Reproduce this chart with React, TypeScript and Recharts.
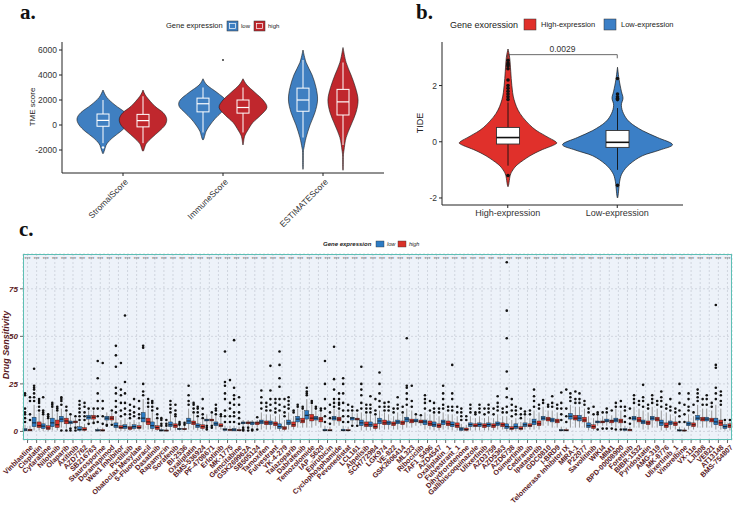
import React from 'react';
import { ComposedChart, Bar, Scatter, XAxis, YAxis, CartesianGrid, ReferenceLine } from 'recharts';

const SANS = '"Liberation Sans", Arial, sans-serif';
const SERIF = '"Liberation Serif", "Times New Roman", serif';
const MAROON = '#5b1a24';

// ---------- a. TME score by gene expression ----------
const tmeCats = ['StromalScore', 'ImmuneScore', 'ESTIMATEScore'];
// box: [lower whisker, q1, median, q3, upper whisker]
const tmeLowBox = [[-1450, -100, 370, 880, 2000], [-600, 1050, 1700, 2150, 3000], [-1000, 1100, 2000, 2950, 5200]];
const tmeHighBox = [[-1450, -150, 350, 850, 2300], [-600, 950, 1400, 2000, 3000], [-1600, 800, 1850, 2850, 5000]];
const tmeLowOut = [[-1800], [], []];
const tmeHighOut = [[], [], []];
// density profile: [score, relative width]
const tmeLowDens = [
  [[2800, 0], [2200, 0.15], [1600, 0.46], [1000, 0.85], [500, 1], [0, 0.92], [-500, 0.69], [-1000, 0.38], [-1500, 0.15], [-2000, 0.06], [-2300, 0]],
  [[3700, 0], [3200, 0.15], [2600, 0.54], [2000, 0.88], [1500, 0.92], [1000, 0.7], [500, 0.46], [0, 0.27], [-500, 0.12], [-1200, 0]],
  [[6000, 0], [5000, 0.12], [4000, 0.35], [3000, 0.5], [2000, 0.56], [1000, 0.46], [0, 0.27], [-1000, 0.12], [-1800, 0.04], [-2200, 0.015], [-3400, 0.01]],
];
const tmeHighDens = [
  [[2800, 0], [2300, 0.12], [1500, 0.46], [1000, 0.77], [500, 0.91], [0, 0.85], [-500, 0.62], [-1000, 0.35], [-1500, 0.12], [-2100, 0]],
  [[3700, 0], [3200, 0.15], [2600, 0.46], [2000, 0.77], [1400, 0.92], [800, 0.69], [200, 0.38], [-400, 0.19], [-800, 0.08], [-1100, 0.04], [-1600, 0]],
  [[6200, 0], [5000, 0.12], [4000, 0.31], [3000, 0.48], [2000, 0.58], [1000, 0.5], [0, 0.31], [-1000, 0.12], [-2000, 0.04], [-2500, 0.015], [-3500, 0.01]],
];
const tmeExtra = [null, 5200, null];

// ---------- b. TIDE ----------
const tideGroups = ['High-expression', 'Low-expression'];
const tideBox = [[-0.85, -0.08, 0.15, 0.51, 1.4], [-1.0, -0.2, -0.02, 0.4, 1.2]];
const tideDens = [
  [[3.3, 0], [3, 0.03], [2.5, 0.05], [2, 0.07], [1.5, 0.11], [1, 0.22], [0.5, 0.45], [0.2, 0.69], [0, 0.87], [-0.1, 0.85], [-0.3, 0.6], [-0.5, 0.4], [-0.8, 0.18], [-1, 0.09], [-1.2, 0.04], [-1.6, 0]],
  [[2.65, 0], [2.2, 0.03], [1.8, 0.07], [1.55, 0.1], [1.3, 0.07], [1, 0.11], [0.7, 0.22], [0.4, 0.45], [0.15, 0.73], [-0.1, 1], [-0.3, 0.76], [-0.5, 0.45], [-0.8, 0.22], [-1.1, 0.09], [-1.4, 0.04], [-2.0, 0]],
];
const tideOut = [[2.9, 2.8, 2.75, 2.7, 2.6, 2.2, 2.0, 1.9, 1.8, 1.7, 1.6, 1.5, -1.2], [2.25, 1.7, 1.6, 1.55, 1.5, -1.55]];
const tidePval = '0.0029';
const tideBracketY = 3.1;

// ---------- c. drug sensitivity ----------
const drugs = [
  'Vinblastine', 'Cisplatin', 'Cytarabine', 'Nilotinib', 'Olaparib', 'Axitinib', 'AZD7762', 'SB216763', 'Staurosporine', 'Doramapimod',
  'Wee1 Inhibitor', 'Pictilisib', 'Obatoclax Mesylate', '5-Fluorouracil', 'Dasatinib', 'Rapamycin', 'Sorafenib', 'BI-2536', 'Oxaliplatin', 'BMS-536924',
  'PF-4708671', 'Erlotinib', 'MK-1775', 'Gemcitabine', 'GSK269962A', 'SB505124', 'Tamoxifen', 'Fulvestrant', 'YK-4-279', 'Talazoparib',
  'Dabrafenib', 'Temozolomide', 'IAP_5620', 'Epirubicin', 'Cyclophosphamide', 'Pevonedistat', 'LCL161', 'Alpelisib', 'SCH772984', 'LGK974',
  'VE-822', 'GSK2606414', 'ML323', 'Ribociclib', 'TAF1_5496', 'AZD4547', 'Oxaliplatin_1', 'Fulvestrant_1', 'Dihydrorotenone', 'Gallibiscoquinazole',
  'Ulixertinib', 'AZD3759', 'AZD5363', 'AZD6738', 'Osimertinib', 'Cediranib', 'Ipatasertib', 'GDC0810', 'I-BRD9', 'Telomerase Inhibitor IX',
  'MIRA-1', 'P22077', 'Savolitinib', 'WIKI4', 'MIM1', 'BPD-00008900', 'Foretinib', 'BIBR-1532', 'Pyridostatin', 'AMG-319',
  'MK-8776', 'Ulixertinib_1', 'Vinorelbine', 'VX-11e', 'LJI308', 'VE821', 'AT13148', 'BMS-754807',
];
// [lower whisker, q1, median, q3, upper whisker]
const lowBox = [
  [0, 0.3, 0.8, 1.5, 3.5], [0.5, 2.5, 4.5, 7.5, 14], [0.3, 1.5, 2.8, 4, 8], [0.5, 2.5, 4.5, 7, 12], [2, 5, 6.5, 8, 12],
  [2.5, 4, 4.8, 5.5, 8], [0, 0.5, 1, 2.5, 5], [5, 6.5, 7.5, 8.5, 11], [0, 0.2, 0.6, 1, 2], [4.5, 6, 7, 8, 10],
  [0.3, 2, 3, 4.5, 8], [0.3, 1.5, 2.5, 3.5, 7], [0.5, 1.5, 2.5, 3.5, 6], [1, 5, 7, 10, 17], [0.3, 1.5, 3, 5, 10],
  [0, 0.2, 0.5, 1, 2], [0.5, 2.5, 3.5, 5, 9], [0.5, 1, 1.3, 1.7, 3], [1, 4, 5.5, 7, 12], [0.5, 2, 3, 4, 7],
  [4, 5.5, 6, 6.5, 9], [1, 3, 4, 5, 8], [0, 0.5, 1, 1.5, 3], [0, 0.3, 0.8, 1.5, 3], [3, 4, 4.5, 5, 6],
  [2, 3.5, 4.5, 5, 6], [1, 4, 5, 6, 10], [1, 3.5, 4.5, 5.5, 9], [0.3, 1.5, 2.5, 4, 9], [1, 3.5, 4.5, 6, 10],
  [2, 5, 6.5, 8, 12], [2, 6.5, 8.5, 11, 17], [3, 6, 7, 8, 11], [0, 0.3, 0.6, 1.2, 3], [3, 6, 7, 8, 12],
  [0, 0.3, 0.6, 1.2, 3], [4, 6, 7, 7.5, 10], [0.5, 3, 4.5, 6, 10], [0.5, 2.5, 3.5, 5, 9], [1, 4, 5.5, 7, 11],
  [1, 3.5, 4.5, 5.5, 9], [1, 4, 5, 6, 10], [2, 5, 6.5, 7.5, 12], [3, 5, 5.5, 6.5, 8], [1, 3.5, 5, 6, 10],
  [0.5, 2.5, 3.5, 5, 9], [1, 3.5, 5, 6, 10], [0.5, 2.5, 3.6, 5, 9], [0, 0.5, 1.3, 2, 4], [0.5, 2.5, 3.6, 4.5, 8],
  [0.5, 2.5, 3.6, 4.5, 8], [0.5, 2.5, 3.6, 4.5, 8], [1, 3, 4, 5, 9], [0, 1.5, 2.5, 4, 8], [0.3, 1.5, 2.5, 4, 7],
  [1, 2.5, 3.5, 4.5, 8], [1, 3.5, 5, 6.5, 11], [3, 6, 7, 8, 13], [2, 5, 6, 7, 11], [0, 0.3, 0.6, 1, 2.5],
  [2, 6.5, 8, 9.5, 14], [2, 5.5, 7, 8.5, 13], [0.5, 2, 3, 4.5, 8], [3, 4.5, 5, 5.5, 8], [3, 5, 5.5, 6.5, 9],
  [2, 5, 6, 7, 12], [0, 0.5, 1, 1.5, 3], [2, 6, 7, 8, 13], [1, 4, 5, 6, 11], [2, 6, 7, 8, 13],
  [0.5, 3, 4.5, 6, 11], [1, 3.5, 4.5, 5.5, 9], [0, 0.2, 0.5, 1, 2.5], [1, 3, 4, 5, 9], [2, 6, 7, 8.5, 14],
  [2, 5.5, 6.5, 7.5, 12], [1, 3.5, 5, 7, 14], [0.5, 1.5, 2.5, 3.5, 5],
];
const highBox = [
  [0, 0.3, 0.7, 1.2, 3], [0.5, 2, 3, 5, 10], [0.2, 1, 1.8, 3, 6], [0.5, 2, 3.5, 6, 10], [1.5, 4, 5.5, 7, 10],
  [3, 4.5, 5, 5.5, 7], [0, 0.5, 1, 2, 4], [5, 6.5, 7.5, 8.5, 11], [0, 0.2, 0.5, 1, 2], [4.5, 6, 7, 8, 10],
  [0.3, 1.5, 2, 3, 6], [0.3, 1, 1.8, 2.5, 5], [0.5, 1.5, 2, 3, 5], [1, 3.5, 5, 7, 12], [0.3, 1, 2, 3, 6],
  [0, 0.2, 0.4, 0.8, 2], [0.5, 2, 3, 4, 7], [0.5, 1, 1.2, 1.6, 3], [1, 3.5, 4.5, 5.5, 9], [0.5, 1.5, 2.5, 3.5, 6],
  [4, 5.5, 6, 6.5, 9], [1, 2.5, 3, 4, 7], [0, 0.5, 0.8, 1.2, 3], [0, 0.3, 0.6, 1, 2.5], [3, 4, 4.5, 5, 6],
  [2, 3.5, 4.5, 5, 6], [1, 3.5, 4.5, 5.5, 9], [1, 3, 4, 5, 8], [0.3, 1, 1.8, 2.5, 6], [1, 2.5, 3.5, 5, 8],
  [2, 4.5, 5.5, 7, 11], [2, 5.5, 7, 9, 14], [2, 5, 6.5, 7.5, 10], [0, 0.3, 0.5, 1, 2.5], [3, 5.5, 6.5, 7.5, 11],
  [0, 0.3, 0.5, 1, 2.5], [4, 6, 6.5, 7, 9.5], [0.5, 2.5, 3.5, 5, 9], [0.5, 1.5, 2.5, 4, 8], [1, 3.5, 4.5, 6, 10],
  [1, 3, 4, 5, 8], [1, 3.5, 4.5, 5.5, 9], [2, 4.5, 5.5, 6.5, 11], [3, 4.5, 5, 6, 7.5], [1, 3, 4, 5.5, 9],
  [0.5, 2, 3, 4, 8], [1, 3, 4, 5.5, 9], [0.5, 2, 3, 4.5, 8], [0, 0.5, 1, 1.8, 3.5], [0.5, 2.5, 3, 4, 7],
  [0.5, 2, 3, 4, 7], [0.5, 2, 3, 4, 7], [1, 2.5, 3.5, 4.5, 8], [0, 1, 1.5, 2.5, 6], [0.3, 1, 1.5, 2.5, 5],
  [1, 2.5, 3, 4, 7], [1, 3, 4, 5.5, 10], [3, 5.5, 6.5, 7.5, 11], [2, 4.5, 5.5, 6.5, 10], [0, 0.3, 0.5, 1, 2],
  [2, 6, 7, 8.5, 13], [2, 5, 6, 7.5, 12], [0.5, 1.5, 2.5, 3.5, 7], [3, 4.5, 5, 5.5, 8], [3, 4.5, 5.5, 6, 8.5],
  [2, 4.5, 5.5, 6.5, 11], [0, 0.3, 0.8, 1.2, 2.5], [2, 5, 6, 7.5, 12], [1, 3.5, 4.5, 5.5, 10], [2, 5.5, 6.5, 7.5, 12],
  [0.5, 2, 3, 4.5, 10], [1, 3, 4, 5, 8], [0, 0.2, 0.4, 0.8, 2], [1, 2.5, 3.5, 4.5, 8], [2, 5.5, 6.5, 7.5, 12],
  [2, 5, 6, 7, 11], [1, 3, 4.5, 6, 12], [0.5, 2, 3, 4, 5],
];
const lowOut = [
  [5, 7, 9, 10, 12, 19, 20], [16, 18, 20, 22, 23, 24, 33], [9, 10, 11, 18], [13, 14, 15], [0.5, 14, 16, 17, 18],
  [0.5, 1.5, 9], [6, 8, 10, 12, 14, 16], [4, 12], [5, 8, 12, 16, 20, 28, 37], [3, 3.5],
  [10, 13, 16, 20, 23, 34, 40, 45], [9, 12, 15, 20, 26, 61], [8, 10, 13, 17], [19, 21, 25, 44, 45], [11, 13, 15, 16],
  [3, 4, 6, 7], [10, 12, 14, 16], [3.5, 4, 5], [14, 16, 19, 24], [8, 10, 12, 13],
  [1, 2, 3], [9, 11, 12, 14], [5, 8, 11, 17, 20, 24, 26, 42], [5, 8, 10, 14, 17, 19, 23, 48], [0.5, 1, 2],
  [0.5, 1], [12, 15, 18, 21.5], [11, 14, 17, 21.5, 34.5], [11, 14, 17, 23.5, 28, 35, 42], [12, 14, 16, 18],
  [13, 14], [19, 20, 21, 23], [12, 13], [5, 8, 12, 17, 25, 37], [13, 15, 17, 22, 27.5, 44.5],
  [5, 8, 11, 15, 20, 25, 28], [3, 11, 13], [12, 15, 19, 22, 25, 34], [10, 12, 14, 18.5], [13, 16, 20, 25, 31],
  [11, 13, 15.5], [12, 14, 18], [14, 17, 20, 23, 24, 49], [9], [12, 15, 17, 19],
  [10, 12, 15], [12, 14, 17, 20, 24], [11, 13, 17, 20, 35], [6, 8, 10, 12], [10, 12, 14],
  [10, 12, 14], [10, 12, 14], [11, 13, 15, 18.5], [10, 13, 18, 22.5, 31.5, 49, 63.5, 89], [9, 11, 13],
  [9, 10.5], [13, 16, 18.5, 22], [15, 16.5], [13, 15, 18.5], [6, 9, 12, 15, 20.5],
  [16, 18, 20], [15, 17, 20], [10, 12], [1, 9, 10], [1.5, 10, 12],
  [1, 13, 15], [5, 8, 11, 13], [15, 17, 19], [13, 16, 18, 24.5], [15, 17, 19],
  [13, 16, 18, 21], [11, 13, 17], [5, 8, 11, 15, 20, 25], [11, 13, 17, 20], [16, 18, 20, 22],
  [14, 17, 19], [17, 20, 23, 33.5, 35, 66.5], [6],
];
const highOut = [
  [6, 9, 16, 18], [11, 13, 15, 16, 17], [7, 8, 9], [11, 12, 13], [0.5, 11, 13],
  [0.5, 2, 8], [6, 8, 10, 13, 15], [4.5, 12], [4, 8, 12, 16, 36], [3.5, 11],
  [8, 11, 15, 19, 22, 36], [7, 9, 11, 14], [7, 9, 12, 16], [13, 15, 17], [7, 9, 12],
  [3, 4, 6], [8, 9, 11, 14], [3.5, 4.5], [10, 12, 14, 15], [7, 9, 12, 17],
  [2, 3, 10], [8, 9], [5, 8, 12, 15, 27], [4, 7, 10, 14, 18], [0.5, 2],
  [1, 7.5], [11, 13, 15], [10, 12, 15, 17], [8, 10, 13, 17], [10, 11],
  [12, 13], [15, 16], [11, 12], [4, 7, 10, 14], [12, 14, 15, 17, 20],
  [5, 8, 11, 14], [3, 11], [10, 12, 14], [9, 11, 17], [11, 13, 15],
  [10, 12], [10, 13], [13, 16, 24], [8.5], [11, 16],
  [10, 12], [11, 13], [10, 13], [6, 8], [9, 10],
  [9, 12], [9, 12], [10, 12], [8, 11, 14, 17], [7, 9, 12],
  [9, 11], [12, 14], [13, 14], [12, 14], [5, 8, 12, 22],
  [15, 17, 21], [14, 16], [9, 13], [1.5, 10], [1.5, 11],
  [1, 13, 16], [4, 7, 12], [14, 16], [12, 14], [14, 16],
  [12, 14], [10, 12], [5, 9, 14], [10, 14], [14, 17],
  [13, 15], [14, 16, 19, 21], [6],
];
const sigLabels = drugs.map(() => '***');
const SIG_Y = 90.8;

// ---------- helpers ----------
const extent = (...lists: number[][]) => {
  const all = lists.flat();
  return [Math.min(...all), Math.max(...all)];
};
const densSpan = (d: number[][]) => extent(d.map((p) => p[0]));

function smoothPath(pts: number[][]) {
  let d = `M${pts[0][0]},${pts[0][1]}`;
  for (let i = 0; i < pts.length - 1; i++) {
    const p0 = pts[i - 1] || pts[i];
    const p1 = pts[i];
    const p2 = pts[i + 1];
    const p3 = pts[i + 2] || p2;
    const c1x = p1[0] + (p2[0] - p0[0]) / 6;
    const c1y = p1[1] + (p2[1] - p0[1]) / 6;
    const c2x = p2[0] - (p3[0] - p1[0]) / 6;
    const c2y = p2[1] - (p3[1] - p1[1]) / 6;
    d += ` C${c1x},${c1y} ${c2x},${c2y} ${p2[0]},${p2[1]}`;
  }
  return d + ' Z';
}

function violinPath(cx: number, py: (v: number) => number, dens: number[][], W: number) {
  const right = dens.map(([v, w]) => [cx + w * W, py(v)]);
  const left = dens.slice().reverse().map(([v, w]) => [cx - w * W, py(v)]);
  const pts = [...right, ...left].filter(
    (p, i, a) => i === 0 || Math.abs(p[0] - a[i - 1][0]) > 0.01 || Math.abs(p[1] - a[i - 1][1]) > 0.01
  );
  return smoothPath(pts);
}

// pixel mapping inside the bar the library placed for the [min, max] range
const rangeMapper = (props: any, lo: number, hi: number) => {
  const top = Math.min(props.y, props.y + props.height);
  const h = Math.abs(props.height);
  return (v: number) => top + ((hi - v) / (hi - lo)) * h;
};

const tmeViolin = (dens: number[][][], box: number[][], out: number[][], color: string) => (props: any) => {
  const i = props.index;
  const [lo, hi] = densSpan(dens[i]);
  const py = rangeMapper(props, lo, hi);
  const cx = props.x + props.width / 2;
  const b = box[i];
  const bw = 12;
  return (
    <g>
      <path d={violinPath(cx, py, dens[i], 26)} fill={color} stroke="#1a1a1a" strokeWidth={0.6} />
      <line x1={cx} x2={cx} y1={py(b[4])} y2={py(b[3])} stroke="#fff" strokeWidth={1} />
      <line x1={cx} x2={cx} y1={py(b[1])} y2={py(b[0])} stroke="#fff" strokeWidth={1} />
      <rect x={cx - bw / 2} y={py(b[3])} width={bw} height={py(b[1]) - py(b[3])} fill="none" stroke="#fff" strokeWidth={1} />
      <line x1={cx - bw / 2} x2={cx + bw / 2} y1={py(b[2])} y2={py(b[2])} stroke="#fff" strokeWidth={1.2} />
      {out[i].map((v, k) => <circle key={k} cx={cx} cy={py(v)} r={1.2} fill="#fff" />)}
    </g>
  );
};

const tideColors = ['#e0302b', '#3b7fc6'];
const tideViolin = (props: any) => {
  const i = props.index;
  const [lo, hi] = densSpan(tideDens[i]);
  const py = rangeMapper(props, lo, hi);
  const cx = props.x + props.width / 2;
  const b = tideBox[i];
  const bw = 23;
  return (
    <g>
      <path d={violinPath(cx, py, tideDens[i], 55)} fill={tideColors[i]} stroke="#1a1a1a" strokeWidth={0.7} />
      <line x1={cx} x2={cx} y1={py(b[4])} y2={py(b[0])} stroke="#111" strokeWidth={0.9} />
      {tideOut[i].map((v, k) => <circle key={k} cx={cx} cy={py(v)} r={1.8} fill="#111" />)}
      <rect x={cx - bw / 2} y={py(b[3])} width={bw} height={py(b[1]) - py(b[3])} fill="#fff" stroke="#333" strokeWidth={0.9} />
      <line x1={cx - bw / 2} x2={cx + bw / 2} y1={py(b[2])} y2={py(b[2])} stroke="#111" strokeWidth={1.6} />
    </g>
  );
};

const drugBox = (boxes: number[][], outs: number[][], color: string) => (props: any) => {
  const i = props.index;
  const b = boxes[i];
  const o = outs[i];
  const [lo, hi] = extent(b, o);
  const py = rangeMapper(props, lo, hi);
  const cx = props.x + props.width / 2;
  return (
    <g>
      <line x1={cx} x2={cx} y1={py(b[4])} y2={py(b[0])} stroke="#8c8c8c" strokeWidth={0.9} />
      <rect x={props.x} y={py(b[3])} width={props.width} height={Math.max(0.8, py(b[1]) - py(b[3]))} fill={color} stroke="#222" strokeWidth={0.4} />
      <line x1={props.x} x2={props.x + props.width} y1={py(b[2])} y2={py(b[2])} stroke="#111" strokeWidth={0.9} />
      {o.map((v, k) => <circle key={k} cx={cx} cy={py(v)} r={1.3} fill="#111" />)}
    </g>
  );
};

const RotTick = (color: string, size: number, bold: boolean, shift: number) => (props: any) => {
  const x = props.x + shift;
  const y = props.y;
  return (
    <text x={x} y={y} dy={size * 0.75} transform={`rotate(-45 ${x} ${y})`} textAnchor="end"
      fontSize={size} fontFamily={SANS} fontWeight={bold ? 'bold' : 'normal'} fill={color}>
      {props.payload.value}
    </text>
  );
};

const tmeRows = tmeCats.map((name, i) => ({
  name,
  low: densSpan(tmeLowDens[i]),
  high: densSpan(tmeHighDens[i]),
  extra: tmeExtra[i],
}));
const tideRows = tideGroups.map((name, i) => ({ name, range: densSpan(tideDens[i]) }));
const drugRows = drugs.map((drug, i) => ({
  drug,
  low: extent(lowBox[i], lowOut[i]),
  high: extent(highBox[i], highOut[i]),
  sig: sigLabels[i],
}));

function Overlay() {
  const t = { fontFamily: SANS, fill: '#222' };
  return (
    <svg width={734} height={518} style={{ position: 'absolute', left: 0, top: 0, pointerEvents: 'none' }}>
      <text x={20} y={19} fontFamily={SERIF} fontWeight="bold" fontSize={21} fill="#111">a.</text>
      <text x={416} y={19} fontFamily={SERIF} fontWeight="bold" fontSize={21} fill="#111">b.</text>
      <text x={19} y={236} fontFamily={SERIF} fontWeight="bold" fontSize={21} fill="#111">c.</text>

      {/* legend a */}
      <text x={166} y={28} fontSize={7.5} {...t}>Gene expression</text>
      <rect x={227} y={21} width={11} height={10} fill="#3f7fc1" stroke="#333" strokeWidth={0.5} />
      <rect x={229.5} y={23.5} width={6} height={5} fill="none" stroke="#fff" strokeWidth={0.7} />
      <text x={241} y={28} fontSize={6} {...t}>low</text>
      <rect x={254} y={21} width={11} height={10} fill="#c0272d" stroke="#333" strokeWidth={0.5} />
      <rect x={256.5} y={23.5} width={6} height={5} fill="none" stroke="#fff" strokeWidth={0.7} />
      <text x={268} y={28} fontSize={6} {...t}>high</text>
      <text x={35} y={107} fontSize={8} textAnchor="middle" transform="rotate(-90 35 107)" {...t}>TME score</text>

      {/* legend b */}
      <text x={450} y={28} fontSize={9} {...t}>Gene exoression</text>
      <rect x={524} y={19} width={12} height={11} fill={tideColors[0]} stroke="#333" strokeWidth={0.5} />
      <text x={541} y={27} fontSize={7.5} {...t}>High-expression</text>
      <rect x={604} y={19} width={12} height={11} fill={tideColors[1]} stroke="#333" strokeWidth={0.5} />
      <text x={621} y={27} fontSize={7.5} {...t}>Low-expression</text>
      <text x={423} y={123} fontSize={9} textAnchor="middle" transform="rotate(-90 423 123)" {...t}>TIDE</text>

      {/* legend c */}
      <text x={323} y={246} fontSize={6} fontWeight="bold" fontStyle="italic" {...t}>Gene expression</text>
      <rect x={376} y={241} width={8} height={6} fill="#2c7bc4" stroke="#333" strokeWidth={0.4} />
      <text x={387} y={246} fontSize={5.5} fontStyle="italic" {...t}>low</text>
      <rect x={398} y={241} width={8} height={6} fill="#d93128" stroke="#333" strokeWidth={0.4} />
      <text x={409} y={246} fontSize={5.5} fontStyle="italic" {...t}>high</text>
      <text x={9} y={345} fontSize={9} fontWeight="bold" fontStyle="italic" textAnchor="middle"
        transform="rotate(-90 9 345)" fontFamily={SANS} fill={MAROON}>Drug Sensitivity</text>
    </svg>
  );
}

export default function App() {
  return (
    <div style={{ position: 'absolute', left: 0, top: 0, width: 734, height: 518, background: '#fff', overflow: 'hidden' }}>
      <div style={{ position: 'absolute', left: 0, top: 0 }}>
        <ComposedChart width={390} height={230} data={tmeRows} barGap={0} margin={{ top: 42, right: 6, bottom: 2, left: 0 }}>
          <XAxis dataKey="name" interval={0} height={55} padding={{ left: 11, right: 11 }} stroke="#222"
            tickSize={3} tickMargin={2} tick={RotTick('#333', 8.5, false, 1)} />
          <YAxis width={62} domain={[-3840, 6640]} ticks={[-2000, 0, 2000, 4000, 6000]} stroke="#222"
            tickSize={3} tickMargin={2} tick={{ fontSize: 8.5, fill: '#333', fontFamily: SANS }} />
          <Bar dataKey="low" barSize={40} isAnimationActive={false} shape={tmeViolin(tmeLowDens, tmeLowBox, tmeLowOut, '#3f7fc1')} />
          <Bar dataKey="high" barSize={40} isAnimationActive={false} shape={tmeViolin(tmeHighDens, tmeHighBox, tmeHighOut, '#c0272d')} />
          <Scatter dataKey="extra" isAnimationActive={false}
            shape={(p: any) => (p.payload.extra == null ? <g /> : <circle cx={p.cx} cy={p.cy} r={0.9} fill="#222" />)} />
        </ComposedChart>
      </div>

      <div style={{ position: 'absolute', left: 360, top: 0 }}>
        <ComposedChart width={374} height={230} data={tideRows} margin={{ top: 42, right: 51, bottom: 2, left: 0 }}>
          <XAxis dataKey="name" interval={0} height={23} padding={{ left: 11, right: 11 }} stroke="#222"
            tickSize={3} tickMargin={2} tick={{ fontSize: 9, fill: '#333', fontFamily: SANS }} />
          <YAxis width={82} domain={[-2.25, 3.55]} ticks={[-2, 0, 2]} stroke="#222"
            tickSize={3} tickMargin={2} tick={{ fontSize: 8.5, fill: '#333', fontFamily: SANS }} />
          <Bar dataKey="range" barSize={100} isAnimationActive={false} shape={tideViolin} />
          <ReferenceLine segment={[{ x: tideGroups[0], y: tideBracketY }, { x: tideGroups[1], y: tideBracketY }]}
            stroke="#444" strokeWidth={0.8}
            label={{ value: tidePval, position: 'top', offset: 3, fontSize: 8.5, fill: '#333', fontFamily: SANS }} />
          <ReferenceLine segment={[{ x: tideGroups[0], y: tideBracketY }, { x: tideGroups[0], y: tideBracketY - 0.13 }]}
            stroke="#444" strokeWidth={0.8} />
          <ReferenceLine segment={[{ x: tideGroups[1], y: tideBracketY }, { x: tideGroups[1], y: tideBracketY - 0.13 }]}
            stroke="#444" strokeWidth={0.8} />
        </ComposedChart>
      </div>

      <div style={{ position: 'absolute', left: 0, top: 240 }}>
        <ComposedChart width={734} height={278} data={drugRows} barGap={1} margin={{ top: 14, right: 2, bottom: 2, left: 0 }}>
          <CartesianGrid fill="#edf2f9" stroke="#c3c9d3" strokeDasharray="2 2" strokeWidth={0.7} />
          <XAxis dataKey="drug" interval={0} height={76} axisLine={false} stroke="#666"
            tickSize={3} tickMargin={1} tick={RotTick(MAROON, 7.2, true, 2)} />
          <YAxis width={23} domain={[-4.5, 93.3]} ticks={[0, 25, 50, 75]} axisLine={false} stroke="#666"
            tickSize={3} tickMargin={2}
            tick={{ fontSize: 8, fill: MAROON, fontWeight: 'bold', fontStyle: 'italic', fontFamily: SANS }} />
          <Bar dataKey="low" barSize={4} isAnimationActive={false} shape={drugBox(lowBox, lowOut, '#2c7bc4')} />
          <Bar dataKey="high" barSize={4} isAnimationActive={false} shape={drugBox(highBox, highOut, '#d93128')} />
          <Scatter dataKey={() => SIG_Y} isAnimationActive={false}
            shape={(p: any) => (
              <text x={p.cx} y={p.cy} dy={2.5} textAnchor="middle" fontSize={5} fill="#666" fontFamily={SANS}>{p.payload.sig}</text>
            )} />
        </ComposedChart>
        <div style={{ position: 'absolute', left: 23, top: 14, width: 709, height: 186, border: '1.5px solid #5dbfb4', boxSizing: 'border-box', pointerEvents: 'none' }} />
      </div>

      <Overlay />
    </div>
  );
}
